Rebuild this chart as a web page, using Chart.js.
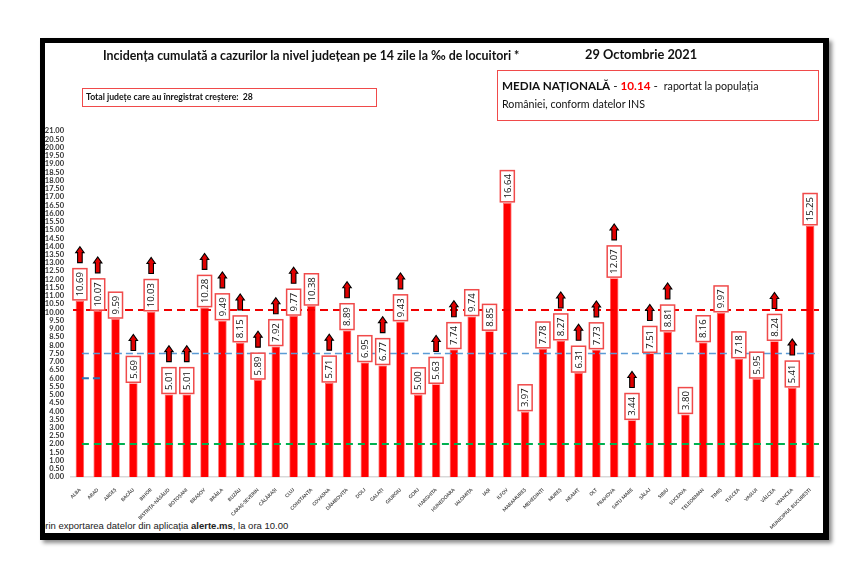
<!DOCTYPE html>
<html>
<head>
<meta charset="utf-8">
<script src="https://cdn.jsdelivr.net/npm/chart.js@4.4.0/dist/chart.umd.min.js"></script>
<style>
  body { margin: 0; background: #fff; width: 852px; height: 585px; overflow: hidden; font-family: Lato, "Open Sans", sans-serif; }
  #frame { position: absolute; left: 40px; top: 38px; width: 789px; height: 502px; box-sizing: border-box;
           border-style: solid; border-color: #000; border-width: 5px 6px 7px 5px; overflow: hidden;
           box-shadow: 3px 3px 4px rgba(0,0,0,0.45); }
  #chart { position: absolute; left: 0; top: 0; }
  .txt { position: absolute; white-space: nowrap; color: #111; }
  .box { position: absolute; border: 1.5px solid #f04a4a; box-sizing: border-box; }
</style>
</head>
<body>
<div id="frame">
  <div class="txt" style="left:-5px; top:477px; font-family:'Liberation Sans',Arial,sans-serif; font-size:9.5px; color:#222;">prin exportarea datelor din aplicația <b>alerte.ms</b>, la ora 10.00</div>
</div>
<canvas id="chart" width="852" height="585"></canvas>

<div class="txt" style="left:103px; top:48px; font-size:12.4px; font-weight:bold;">Incidența cumulată a cazurilor la nivel județean pe 14 zile la ‰ de locuitori *</div>
<div class="txt" style="left:585px; top:46px; font-size:12.8px; font-weight:bold;">29 Octombrie 2021</div>

<div class="box" style="left:82px; top:88px; width:295px; height:19px;"></div>
<div class="txt" style="left:86px; top:91px; font-size:8.7px; font-weight:bold;">Total județe care au înregistrat creștere:&nbsp; 28</div>

<div class="box" style="left:497px; top:70px; width:322px; height:51px;"></div>
<div class="txt" style="left:502px; top:78px; font-size:11.7px;"><b>MEDIA NAȚIONALĂ</b> - <b style="color:#f00;">10.14</b> -&nbsp; <span style="font-size:10.7px;">raportat la populația</span></div>
<div class="txt" style="left:502px; top:97px; font-size:10.7px;">României, conform datelor INS</div>

<script>
// judete, in ordinea din grafic
const categories = ['ALBA', 'ARAD', 'ARGEȘ', 'BACĂU', 'BIHOR', 'BISTRIȚA-NĂSĂUD', 'BOTOȘANI', 'BRAȘOV', 'BRĂILA', 'BUZĂU',
  'CARAȘ-SEVERIN', 'CĂLĂRAȘI', 'CLUJ', 'CONSTANȚA', 'COVASNA', 'DÂMBOVIȚA', 'DOLJ', 'GALAȚI', 'GIURGIU', 'GORJ',
  'HARGHITA', 'HUNEDOARA', 'IALOMIȚA', 'IAȘI', 'ILFOV', 'MARAMUREȘ', 'MEHEDINȚI', 'MUREȘ', 'NEAMȚ', 'OLT',
  'PRAHOVA', 'SATU MARE', 'SĂLAJ', 'SIBIU', 'SUCEAVA', 'TELEORMAN', 'TIMIȘ', 'TULCEA', 'VASLUI', 'VÂLCEA',
  'VRANCEA', 'MUNICIPIUL BUCUREȘTI'];
const incidenta = [10.69, 10.07, 9.59, 5.69, 10.03, 5.01, 5.01, 10.28, 9.49, 8.15,
  5.89, 7.92, 9.77, 10.38, 5.71, 8.89, 6.95, 6.77, 9.43, 5.00,
  5.63, 7.74, 9.74, 8.85, 16.64, 3.97, 7.78, 8.27, 6.31, 7.73,
  12.07, 3.44, 7.51, 8.81, 3.80, 8.16, 9.97, 7.18, 5.95, 8.24,
  5.41, 15.25];
// 1 = sageata de crestere
const crestere = [1, 1, 0, 1, 1, 1, 1, 1, 1, 1,
  1, 1, 1, 0, 1, 1, 0, 1, 1, 0,
  1, 1, 0, 0, 0, 0, 0, 1, 1, 1,
  1, 1, 1, 1, 0, 0, 0, 0, 0, 1,
  1, 0];
const mediaNationala = 10.14;
const pragAlbastru = 7.5;
const pragAlbastruScurt = 6.0;
const pragVerde = 2.0;
const yMin = 0, yMax = 21, yPas = 0.5;

const liniiPlugin = {
  id: 'linii',
  afterDatasetsDraw(chart) {
    const ctx = chart.ctx, y = chart.scales.y, a = chart.chartArea;
    const x0 = chart.scales.x.getPixelForValue(0);
    function dash(val, from, to, color, w, pattern) {
      const py = y.getPixelForValue(val);
      ctx.save();
      ctx.strokeStyle = color; ctx.lineWidth = w; ctx.setLineDash(pattern);
      ctx.beginPath(); ctx.moveTo(from, py); ctx.lineTo(to, py); ctx.stroke();
      ctx.restore();
    }
    dash(mediaNationala, a.left + 2, a.right, '#f00000', 2, [8, 5]);
    dash(pragAlbastru, x0 + 2, a.right, '#5b9bd5', 1.5, [7, 4]);
    dash(pragAlbastruScurt, x0 + 2, x0 + 20, '#2e75b6', 2, [7, 4]);
    dash(pragVerde, x0 + 2, a.right, '#00b050', 2, [7, 5]);
  }
};

const eticPlugin = {
  id: 'etichete',
  afterDatasetsDraw(chart) {
    const ctx = chart.ctx;
    const meta = chart.getDatasetMeta(0);
    ctx.save();
    ctx.font = '9.5px "Open Sans", sans-serif';
    meta.data.forEach(function(bar, i) {
      const txt = incidenta[i].toFixed(2);
      const tw = ctx.measureText(txt).width;
      const bh = tw + 7, bw = 14;
      const bottom = bar.y - 1;
      const top = bottom - bh;
      ctx.fillStyle = '#fff';
      ctx.fillRect(bar.x - bw / 2, top, bw, bh);
      ctx.strokeStyle = '#f04a4a'; ctx.lineWidth = 1.5;
      ctx.strokeRect(bar.x - bw / 2, top, bw, bh);
      ctx.save();
      ctx.translate(bar.x, bottom - bh / 2);
      ctx.rotate(-Math.PI / 2);
      ctx.fillStyle = '#111'; ctx.textAlign = 'center'; ctx.textBaseline = 'middle';
      ctx.fillText(txt, 0, 0.5);
      ctx.restore();
      if (crestere[i]) {
        // sageata rosie cu contur negru
        const ab = top - 6, ah = 16, cx = bar.x;
        ctx.beginPath();
        ctx.moveTo(cx - 2.3, ab);
        ctx.lineTo(cx - 2.3, ab - ah + 6);
        ctx.lineTo(cx - 4.2, ab - ah + 6);
        ctx.lineTo(cx, ab - ah);
        ctx.lineTo(cx + 4.2, ab - ah + 6);
        ctx.lineTo(cx + 2.3, ab - ah + 6);
        ctx.lineTo(cx + 2.3, ab);
        ctx.closePath();
        ctx.fillStyle = '#e00000'; ctx.fill();
        ctx.strokeStyle = '#000'; ctx.lineWidth = 1.1; ctx.stroke();
      }
    });
    ctx.restore();
  }
};

var config = {
  type: 'bar',
  data: {
    labels: categories,
    datasets: [{
      data: incidenta,
      backgroundColor: '#ff0000',
      borderColor: '#ff5c5c',
      borderWidth: 0.8,
      barPercentage: 0.48,
      categoryPercentage: 1
    }]
  },
  options: {
    responsive: false,
    animation: false,
    layout: { padding: { left: 42, right: 33, top: 131, bottom: 48 } },
    plugins: { legend: { display: false }, tooltip: { enabled: false } },
    scales: {
      x: {
        grid: { display: false },
        border: { display: true, color: '#d9d9d9', width: 1.5 },
        ticks: {
          autoSkip: false, maxRotation: 45, minRotation: 45, padding: 2,
          color: '#444', font: { family: 'Lato', size: 4.8, weight: 'bold' }
        },
        afterFit(scale) { scale.height = 60; }
      },
      y: {
        min: yMin, max: yMax,
        grid: { display: false, drawTicks: false },
        border: { display: false },
        ticks: {
          stepSize: yPas, maxTicksLimit: 100, autoSkip: false, padding: 7,
          color: '#333', font: { family: 'Lato', size: 7.5, weight: 'bold' },
          callback: function(v) { return v.toFixed(2); }
        },
        afterFit(scale) { scale.width = 29; }
      }
    }
  },
  plugins: [liniiPlugin, eticPlugin]
};

window.onload = function() {
  var ctx = document.getElementById('chart').getContext('2d');
  window.myChart = new Chart(ctx, config);
};
</script>
</body>
</html>
